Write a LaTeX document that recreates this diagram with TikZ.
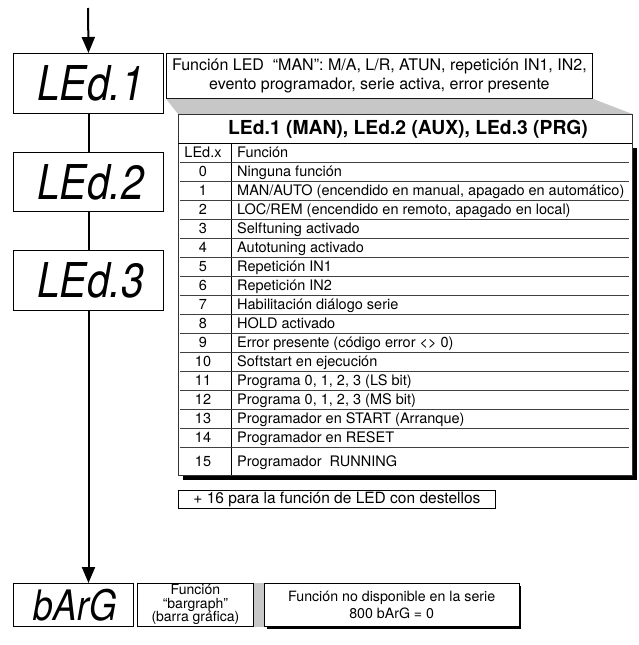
\documentclass[tikz,border=0pt]{standalone}
\usepackage{fontspec}
\setmainfont{TeX Gyre Heros}
\newfontfamily\segfont[FakeSlant=0.18, FakeStretch=0.85]{TeX Gyre Heros}
\usetikzlibrary{positioning}
\usetikzlibrary{calc}
\usetikzlibrary{arrows.meta}

\definecolor{fold}{gray}{0.78}

\tikzset{
  display/.style={draw, line width=1pt, minimum width=150pt, minimum height=60pt, inner sep=0pt, font=\segfont\fontsize{48}{48}\selectfont},
  textbox/.style={draw, line width=0.8pt, align=center, inner sep=2pt, font=\fontsize{15.5}{18}\selectfont},
  rowtext/.style={inner sep=0pt, font=\fontsize{14.5}{17}\selectfont},
  rowline/.style={line width=0.9pt, black!75},
  flow/.style={line width=2pt},
  flowarrow/.style={flow, -{Triangle[length=16pt, width=13pt]}},
}

\begin{document}
\begin{tikzpicture}[x=1pt, y=-1pt]
\useasboundingbox (0,0) rectangle (638,645);

% Displays
\node[display, anchor=north west] (led1) at (13,53) {LEd.1};
\node[display, anchor=north west, minimum height=59pt] (led2) at (13,152) {LEd.2};
\node[display, anchor=north west] (led3) at (13,250) {LEd.3};
\node[display, anchor=north west, minimum width=120pt, minimum height=43pt, font=\segfont\fontsize{42}{42}\selectfont] (barg) at (13,583) {bArG};

% Flow
\coordinate (start) at (88,8);
\draw[flowarrow] (start) -- (led1.north);
\draw[flow] (led1) -- (led2);
\draw[flow] (led2) -- (led3);
\draw[flowarrow] (led3.south) -- (barg.north -| led3.south);

% Callout
\node[textbox, anchor=north west, minimum width=426pt, minimum height=45pt, font=\fontsize{16}{19}\selectfont] (callout) at (166,53)
  {Función LED\ \ “MAN”: M/A, L/R, ATUN, repetición IN1, IN2,\\ evento programador, serie activa, error presente};

% Table frame and shadow
\node[anchor=north west, minimum width=454pt, minimum height=361pt, inner sep=0pt] (tab) at (178,114) {};
\fill[fold] (callout.south west) -- (callout.south east) -- (tab.north east) -- (tab.north west) -- cycle;
\fill (632,148) rectangle (637,480);
\fill (183,475) rectangle (637,480);
\draw[line width=0.9pt, black!80, fill=white] (tab.north west) rectangle (tab.south east);

\node[font=\bfseries\fontsize{19.3}{19}\selectfont] (title) at (408,129) {LEd.1 (MAN), LEd.2 (AUX), LEd.3 (PRG)};
\draw[line width=1pt] (178,143) -- (632,143);
\draw[line width=1pt] (231,143) -- (231,475);

% Rows
\foreach \num/\txt [count=\i] in {LEd.x/Función, 0/Ninguna función,
    1/{MAN/AUTO (encendido en manual, apagado en automático)},
    2/{LOC/REM (encendido en remoto, apagado en local)},
    3/Selftuning activado, 4/Autotuning activado, 5/Repetición IN1, 6/Repetición IN2,
    7/Habilitación diálogo serie, 8/HOLD activado, 9/Error presente (código error <> 0),
    10/Softstart en ejecución, 11/{Programa 0, 1, 2, 3 (LS bit)}, 12/{Programa 0, 1, 2, 3 (MS bit)},
    13/Programador en START (Arranque), 14/Programador en RESET, 15/Programador\ \ RUNNING} {
  \pgfmathsetmacro{\ry}{143+(\i-0.5)*19}
  \ifnum\i=17 \pgfmathsetmacro{\ry}{461}\fi
  \node[rowtext, anchor=base] (num\i) at (203,\ry+5.2) {\num};
  \node[rowtext, anchor=base west] (fn\i) at (237,\ry+5.2) {\txt};
  \ifnum\i<17 \draw[rowline] (180,143+\i*19) -- (629,143+\i*19); \fi
}

\node[textbox, anchor=north west, minimum width=317pt, minimum height=18pt, inner sep=1pt] (flash) at (178,490)
  {+ 16 para la función de LED con destellos};

% bargraph
\node[textbox, anchor=north west, minimum width=116pt, minimum height=43pt, inner sep=0pt, font=\fontsize{14}{13.5}\selectfont] (bartxt) at (137,583)
  {Función\\“bargraph”\\(barra gráfica)};
\fill[fold] (bartxt.north east) rectangle ($(bartxt.south east)+(10,0)$);
\fill ($(bartxt.north east)+(13,3)$) rectangle (521,629);
\node[textbox, anchor=north west, minimum width=255pt, minimum height=43pt, fill=white, font=\fontsize{14.2}{17}\selectfont] (nodisp) at ($(bartxt.north east)+(10,0)$)
  {Función no disponible en la serie\\800 bArG = 0};

\end{tikzpicture}
\end{document}
